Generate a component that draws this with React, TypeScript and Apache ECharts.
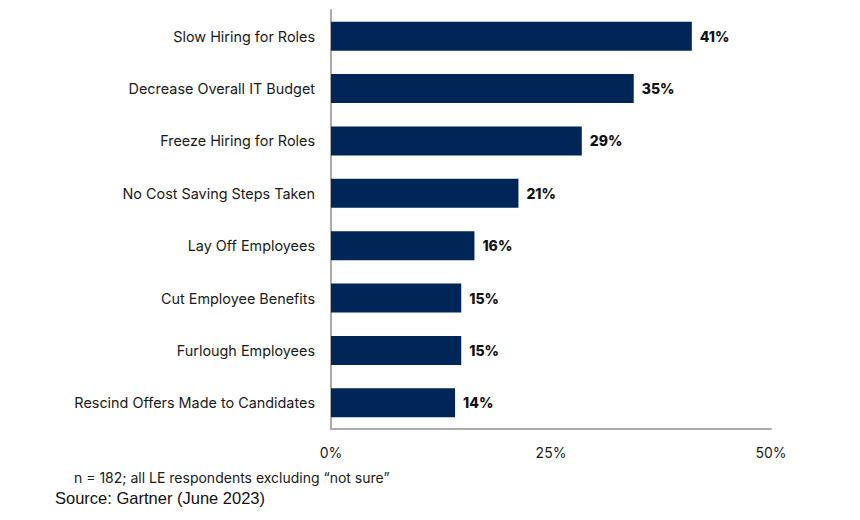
import React, { useEffect, useRef } from "react";
import * as echarts from "echarts";

const categories = [
  "Slow Hiring for Roles",
  "Decrease Overall IT Budget",
  "Freeze Hiring for Roles",
  "No Cost Saving Steps Taken",
  "Lay Off Employees",
  "Cut Employee Benefits",
  "Furlough Employees",
  "Rescind Offers Made to Candidates",
];
// bar lengths as drawn (%), and the rounded labels printed beside them
const values = [41.0, 34.4, 28.5, 21.3, 16.3, 14.8, 14.8, 14.1];
const valueLabels = ["41%", "35%", "29%", "21%", "16%", "15%", "15%", "14%"];
const footnote = "n = 182; all LE respondents excluding \u201cnot sure\u201d";
const source = "Source: Gartner (June 2023)";

export default function App() {
  const ref = useRef<HTMLDivElement>(null);
  useEffect(() => {
    const chart = echarts.init(ref.current!, null, { renderer: "svg" });
    const font = "Inter";
    chart.setOption({
      animation: false,
      grid: { left: 323, right: 97, top: 2, bottom: 99, containLabel: false },
      xAxis: {
        type: "value",
        min: 0,
        max: 50,
        interval: 25,
        axisLine: { show: true, lineStyle: { color: "#aaaaaa", width: 2 } },
        axisTick: { show: false },
        splitLine: { show: false },
        axisLabel: {
          formatter: "{value}%",
          color: "#1a1a1a",
          fontFamily: font,
          fontSize: 14,
          margin: 16,
        },
      },
      yAxis: {
        type: "category",
        inverse: true,
        data: categories,
        axisLine: { show: true, lineStyle: { color: "#aaaaaa", width: 2 } },
        axisTick: { show: false },
        axisLabel: {
          color: "#1a1a1a",
          fontFamily: font,
          fontSize: 14.4,
          margin: 16,
        },
      },
      series: [
        {
          type: "bar",
          data: values,
          barWidth: 29,
          itemStyle: { color: "#002557" },
          label: {
            show: true,
            position: "right",
            distance: 8,
            formatter: (p: any) => valueLabels[p.dataIndex],
            color: "#111111",
            fontFamily: font,
            fontWeight: 800,
            fontSize: 14,
          },
        },
      ],
      graphic: [
        {
          type: "text",
          left: 66,
          top: 462,
          style: { text: footnote, fill: "#1a1a1a", font: `14px ${font}` },
        },
        {
          type: "text",
          left: 47,
          top: 481,
          style: { text: source, fill: "#111111", font: "16.5px 'Liberation Sans'" },
        },
      ],
    });
    return () => chart.dispose();
  }, []);
  return <div ref={ref} style={{ width: 860, height: 520 }} />;
}
